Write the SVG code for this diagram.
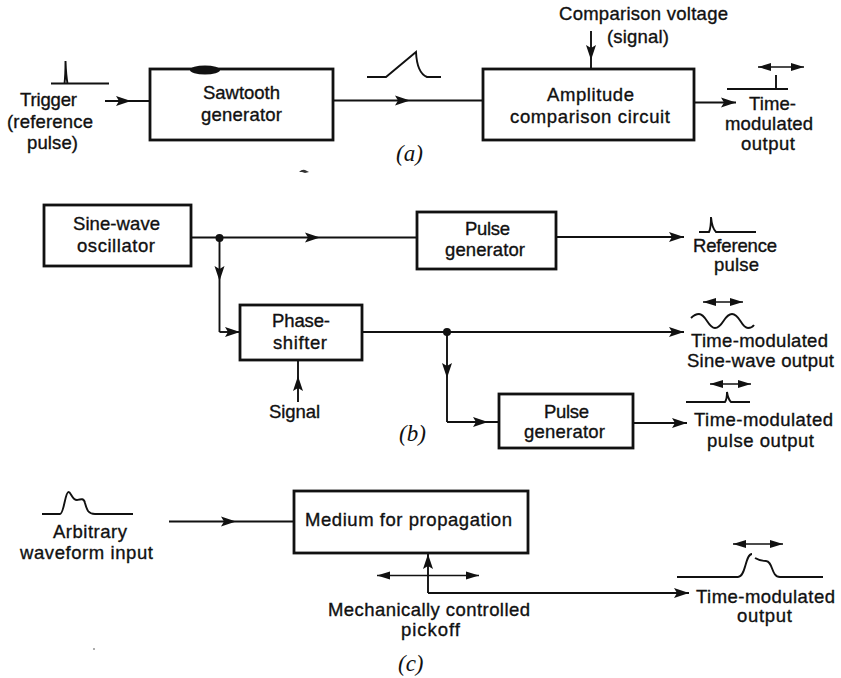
<svg xmlns="http://www.w3.org/2000/svg" width="841" height="678" viewBox="0 0 841 678">
<style>
text{font-family:"Liberation Sans",Arial,sans-serif;font-size:18.500px;fill:#111;stroke:#111;stroke-width:.35px}
text.l{font-family:"Liberation Serif","Times New Roman",serif;font-style:italic;font-size:23px;stroke:none}
.box{fill:#fff;stroke:#111;stroke-width:2.800px}
.c{fill:none;stroke:#111;stroke-width:1.900px;marker-mid:url(#h)}
.e{fill:none;stroke:#111;stroke-width:1.900px;marker-end:url(#h)}
.d{fill:none;stroke:#111;stroke-width:1.600px;marker-start:url(#s);marker-end:url(#s)}
.w{fill:none;stroke:#111;stroke-width:1.900px}
</style>
<defs>
<marker id="h" markerUnits="userSpaceOnUse" markerWidth="16" markerHeight="12" refX="15" refY="6" orient="auto"><path d="M0 1 L15 6 L0 11 L3 6Z" fill="#111"/></marker>
<marker id="s" markerUnits="userSpaceOnUse" markerWidth="14" markerHeight="10" refX="13" refY="5" orient="auto-start-reverse"><path d="M0 1 L13 5 L0 9Z" fill="#111"/></marker>
</defs>
<rect width="841" height="678" fill="#fff"/>
<g id="connectors">
<path class="c" d="M105 101 L131 101 L150 101"/>
<path class="c" d="M333 100.500 L410 100.500 L483 100.500"/>
<path class="c" d="M591 31 L591 60 L591 69"/>
<path class="e" d="M694 102.500 L736 102.500"/>
<path class="c" d="M191 237.500 L320 237.500 L417 237.500"/>
<path class="e" d="M556 237 L684 237"/>
<path class="c" d="M219.500 238 L219.500 281 L219.500 332"/>
<path class="e" d="M219.500 332 L240 332"/>
<path class="c" d="M298 402 L298 376 L298 360"/>
<path class="e" d="M362 332 L684 332"/>
<path class="c" d="M447 332 L447 378 L447 422"/>
<path class="c" d="M447 422 L488 422 L499 422"/>
<path class="e" d="M633 423 L687 423"/>
<path class="c" d="M169 521.500 L236 521.500 L294 521.500"/>
<path class="c" d="M428 593 L428 554 L428 553"/>
<path class="e" d="M428 593 L689 593"/>
<circle cx="219.500" cy="238" r="4" fill="#111"/>
<circle cx="447" cy="332" r="4" fill="#111"/>
</g>
<g id="a-trigger">
<path class="w" d="M51 83.500 H109 M64.500 83.500 Q65.500 75 65.500 61 Q66 75 67.500 83.500"/>
<text x="20" y="106" textLength="57">Trigger</text>
<text x="7" y="128" textLength="86">(reference</text>
<text x="27" y="149" textLength="51">pulse)</text>
</g>
<g id="a-sawtooth">
<rect class="box" x="150" y="69" width="183" height="71"/>
<ellipse cx="205" cy="70" rx="15" ry="4.500" fill="#111"/>
<text x="203" y="99" textLength="77">Sawtooth</text>
<text x="201" y="121" textLength="81">generator</text>
</g>
<g id="a-wave"><path class="w" d="M367 77 H386 L416 52 Q417 73 427 77 H441"/></g>
<g id="a-amplitude">
<rect class="box" x="483" y="69" width="211" height="71"/>
<text x="547" y="101" textLength="87">Amplitude</text>
<text x="510" y="123" textLength="160">comparison circuit</text>
</g>
<g id="a-comparison">
<text x="559" y="20" textLength="169">Comparison voltage</text>
<text x="607" y="43" textLength="62">(signal)</text>
</g>
<g id="a-output">
<path class="d" d="M758 67 H804"/>
<path class="w" d="M727 89 H788 M776 89 V75"/>
<text x="749" y="110" textLength="47">Time-</text>
<text x="725" y="130" textLength="88">modulated</text>
<text x="741" y="150" textLength="54">output</text>
</g>
<text class="l" x="396" y="161">(a)</text>
<path d="M299 172 q3 -3 6 -2 l4 2 l-4 1 l-3 -1z" fill="#333"/>
<g id="b-oscillator">
<rect class="box" x="44" y="205" width="147" height="61"/>
<text x="73" y="230" textLength="87">Sine-wave</text>
<text x="77" y="252" textLength="78">oscillator</text>
</g>
<g id="b-pulse1">
<rect class="box" x="417" y="212" width="139" height="57"/>
<text x="465" y="235" textLength="45">Pulse</text>
<text x="445" y="256" textLength="80">generator</text>
</g>
<g id="b-reference">
<path class="w" d="M699 232 H709 Q711 228 711 217 Q712 228 716 232 H756"/>
<text x="693" y="252" textLength="84">Reference</text>
<text x="714" y="271" textLength="45">pulse</text>
</g>
<g id="b-phase">
<rect class="box" x="240" y="305" width="122" height="55"/>
<text x="272" y="327" textLength="58">Phase-</text>
<text x="273" y="349" textLength="54">shifter</text>
</g>
<g id="b-signal"><text x="269" y="418" textLength="51">Signal</text></g>
<g id="b-sine">
<path class="d" d="M703 302 H743"/>
<path class="w" d="M691 318 Q695 314 699 314 C706 314 708 328 715 328 C723 328 724 314 732 314 C740 314 741 328 748 328 Q752 328 754 325"/>
<text x="691" y="347" textLength="137">Time-modulated</text>
<text x="687" y="367" textLength="147">Sine-wave output</text>
</g>
<g id="b-pulse2">
<rect class="box" x="499" y="394" width="134" height="54"/>
<text x="544" y="418" textLength="45">Pulse</text>
<text x="524" y="438" textLength="81">generator</text>
</g>
<g id="b-output">
<path class="d" d="M710 384 H751"/>
<path class="w" d="M686 402 H725 Q727 399 727 392 Q728 399 731 402 H750"/>
<text x="694" y="426" textLength="139">Time-modulated</text>
<text x="707" y="447" textLength="107">pulse output</text>
</g>
<text class="l" x="399" y="441">(b)</text>
<g id="c-input">
<path class="w" d="M42 514 H60 C64 514 65 492 68.500 492 C71 492 72 500 77 500 C81 499 84 498 85 503 C87 510 88 514 95 514 H133"/>
<text x="53" y="538" textLength="74">Arbitrary</text>
<text x="20" y="559" textLength="133">waveform input</text>
</g>
<g id="c-medium">
<rect class="box" x="294" y="491" width="234" height="62"/>
<text x="305" y="526" textLength="207">Medium for propagation</text>
</g>
<g id="c-pickoff">
<path class="d" d="M377 575.500 H479"/>
<text x="328" y="616" textLength="202">Mechanically controlled</text>
<text x="401" y="636" textLength="59">pickoff</text>
</g>
<g id="c-output">
<path class="d" d="M733 544 H783"/>
<path class="w" d="M677 577 H738 C746 577 745 554 752 554 M755 558 Q760 561 766 561 C773 561 771 577 780 577 H823"/>
<text x="696" y="603" textLength="139">Time-modulated</text>
<text x="737" y="622" textLength="55">output</text>
</g>
<text class="l" x="398" y="671">(c)</text>
<circle cx="94" cy="649" r="0.800" fill="#444"/>
</svg>
